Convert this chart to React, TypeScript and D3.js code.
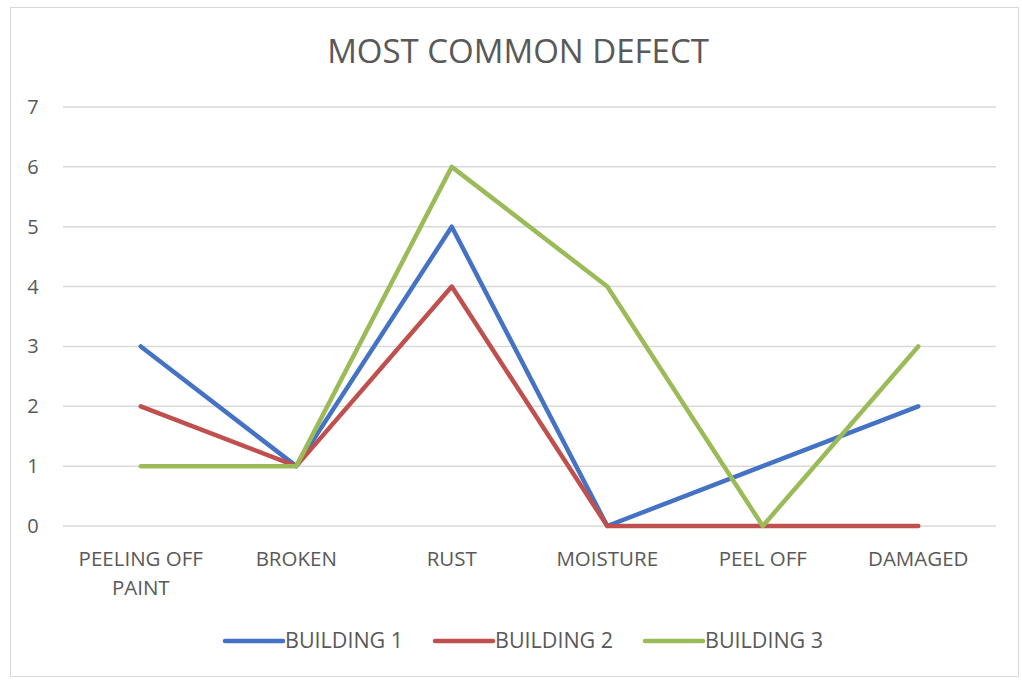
import React from 'react';
import * as d3 from 'd3';

const categories = [['PEELING OFF', 'PAINT'], ['BROKEN'], ['RUST'], ['MOISTURE'], ['PEEL OFF'], ['DAMAGED']];
const seriesNames = ['BUILDING 1', 'BUILDING 2', 'BUILDING 3'];
const building1 = [3, 1, 5, 0, 1, 2];
const building2 = [2, 1, 4, 0, 0, 0];
const building3 = [1, 1, 6, 4, 0, 3];
const yTicks = [0, 1, 2, 3, 4, 5, 6, 7];
const colors = ['#4472C4', '#C0504D', '#9BBB59'];

const W = 1022;
const H = 680;
const FONT = "'Open Sans', sans-serif";

export default function App() {
  const x = d3.scaleBand<number>().domain(d3.range(categories.length)).range([63, 996]);
  const y = d3.scaleLinear().domain([0, 7]).range([526, 107]);
  const cx = (i: number) => (x(i) ?? 0) + x.bandwidth() / 2;
  const line = d3.line<number>().x((d, i) => cx(i)).y(d => y(d));
  const series = [building1, building2, building3];

  // legend layout
  const legendX = [225, 435, 645];

  return (
    <svg width={W} height={H} style={{ position: 'absolute', left: 0, top: 0, background: '#fff' }}>
      <rect x={10.5} y={7.5} width={1008} height={669} fill="#fff" stroke="#d9d9d9" />
      <text x={518} y={63} textAnchor="middle" fill="#595959" fontFamily={FONT} fontSize={33}>
        MOST COMMON DEFECT
      </text>

      {yTicks.map(t => (
        <g key={t}>
          <line x1={63} x2={996} y1={y(t)} y2={y(t)} stroke="#d9d9d9" strokeWidth={1.5} />
          <text x={33} y={y(t) + 7} textAnchor="middle" fill="#595959" fontFamily={FONT} fontSize={20}>
            {t}
          </text>
        </g>
      ))}

      {categories.map((c, i) => (
        <text key={i} x={cx(i)} y={566} textAnchor="middle" fill="#595959" fontFamily={FONT} fontSize={20.5}>
          {c.map((s, j) => (
            <tspan key={j} x={cx(i)} dy={j === 0 ? 0 : 29}>{s}</tspan>
          ))}
        </text>
      ))}

      {series.map((s, k) => (
        <path key={k} d={line(s) ?? ''} fill="none" stroke={colors[k]} strokeWidth={4.5}
          strokeLinejoin="round" strokeLinecap="round" />
      ))}

      {seriesNames.map((n, k) => (
        <g key={n}>
          <line x1={legendX[k]} x2={legendX[k] + 58} y1={641} y2={641} stroke={colors[k]}
            strokeWidth={4.5} strokeLinecap="round" />
          <text x={legendX[k] + 60} y={648} fill="#595959" fontFamily={FONT} fontSize={21.5}>{n}</text>
        </g>
      ))}
    </svg>
  );
}
